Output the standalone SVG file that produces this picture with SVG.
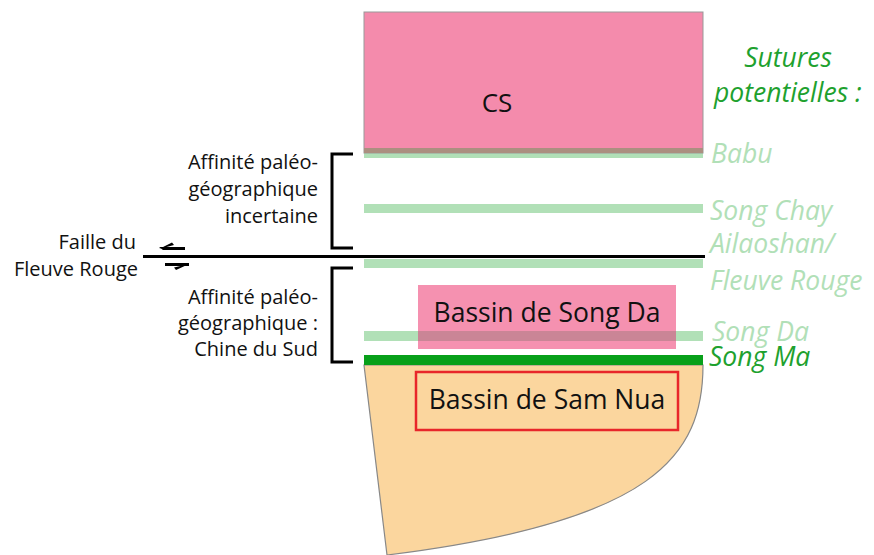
<svg xmlns="http://www.w3.org/2000/svg" width="874" height="555" viewBox="0 0 874 555">
<style>
.sut{fill:#b1e0b7}
.lbl{font-family:"Open Sans","Liberation Sans",sans-serif;fill:#111}
.left{font-size:20px;text-anchor:end}
.it{font-family:"Open Sans","Liberation Sans",sans-serif;font-style:italic;font-size:26.5px;fill:#b1e0b7}
.dk{fill:#1ea12e}
.blk{stroke:#000;stroke-width:3;fill:none}
</style>
<rect width="874" height="555" fill="#fff"/>
<g id="sam-nua-block">
<path d="M364,365 L703,365 C703,455 655,522 387,555 Z" fill="#fbd69e" stroke="#888" stroke-width="1.2"/>
</g>
<g id="sutures">
<rect class="sut" x="364" y="150" width="339" height="8"/>
<rect class="sut" x="364" y="204" width="339" height="9"/>
<rect class="sut" x="364" y="259" width="339" height="9"/>
<rect class="sut" x="364" y="331" width="339" height="10"/>
<rect x="364" y="355" width="339" height="10" fill="#08a01a"/>
</g>
<g id="cs">
<rect x="364" y="12" width="339" height="141" fill="#f48bac" stroke="#999" stroke-width="1"/>
<rect x="364" y="148" width="339" height="5" fill="#ab8f80"/>
<text class="lbl" x="497" y="112" font-size="26" text-anchor="middle">CS</text>
</g>
<g id="song-da">
<rect x="418" y="285" width="258" height="64" fill="#f48bac" fill-opacity="0.95"/>
<rect x="418" y="331" width="258" height="10" fill="#ca8596"/>
<text class="lbl" x="547" y="322" font-size="26.5" text-anchor="middle">Bassin de Song Da</text>
</g>
<g id="sam-nua">
<rect x="416" y="372" width="262" height="58" fill="none" stroke="#e8262a" stroke-width="2.5"/>
<text class="lbl" x="547" y="409" font-size="26.5" text-anchor="middle">Bassin de Sam Nua</text>
</g>
<g id="connectors">
<line class="blk" x1="143" y1="256.5" x2="705" y2="256.5"/>
<path d="M159,247 L185,247 L185,250 L163,250 Z M159,249 L172,242.5 L174,245 Z" fill="#000"/>
<path d="M165,263 L189,263 L189,266 L165,266 Z M189,264 L176,270 L174,267.5 Z" fill="#000"/>
<path class="blk" d="M353,154 L332,154 L332,248 L353,248"/>
<path class="blk" d="M353,268 L332,268 L332,362 L353,362"/>
</g>
<g id="labels-left">
<text class="lbl left" x="318" y="169">Affinité paléo-</text>
<text class="lbl left" x="318" y="196">géographique </text>
<text class="lbl left" x="318" y="223">incertaine</text>
<text class="lbl left" x="318" y="304">Affinité paléo-</text>
<text class="lbl left" x="318" y="330">géographique :</text>
<text class="lbl left" x="318" y="356">Chine du Sud</text>
<text class="lbl left" x="136" y="249">Faille du</text>
<text class="lbl left" x="138" y="276">Fleuve Rouge</text>
</g>
<g id="labels-right">
<text class="it dk" x="788" y="67" text-anchor="middle" font-size="27">Sutures</text>
<text class="it dk" x="714" y="102" font-size="27">potentielles :</text>
<text class="it" x="711" y="163">Babu</text>
<text class="it" x="710" y="220">Song Chay</text>
<text class="it" x="710" y="253">Ailaoshan/</text>
<text class="it" x="710" y="290">Fleuve Rouge</text>
<text class="it" x="712" y="341">Song Da</text>
<text class="it dk" x="709" y="366">Song Ma</text>
</g>
</svg>
